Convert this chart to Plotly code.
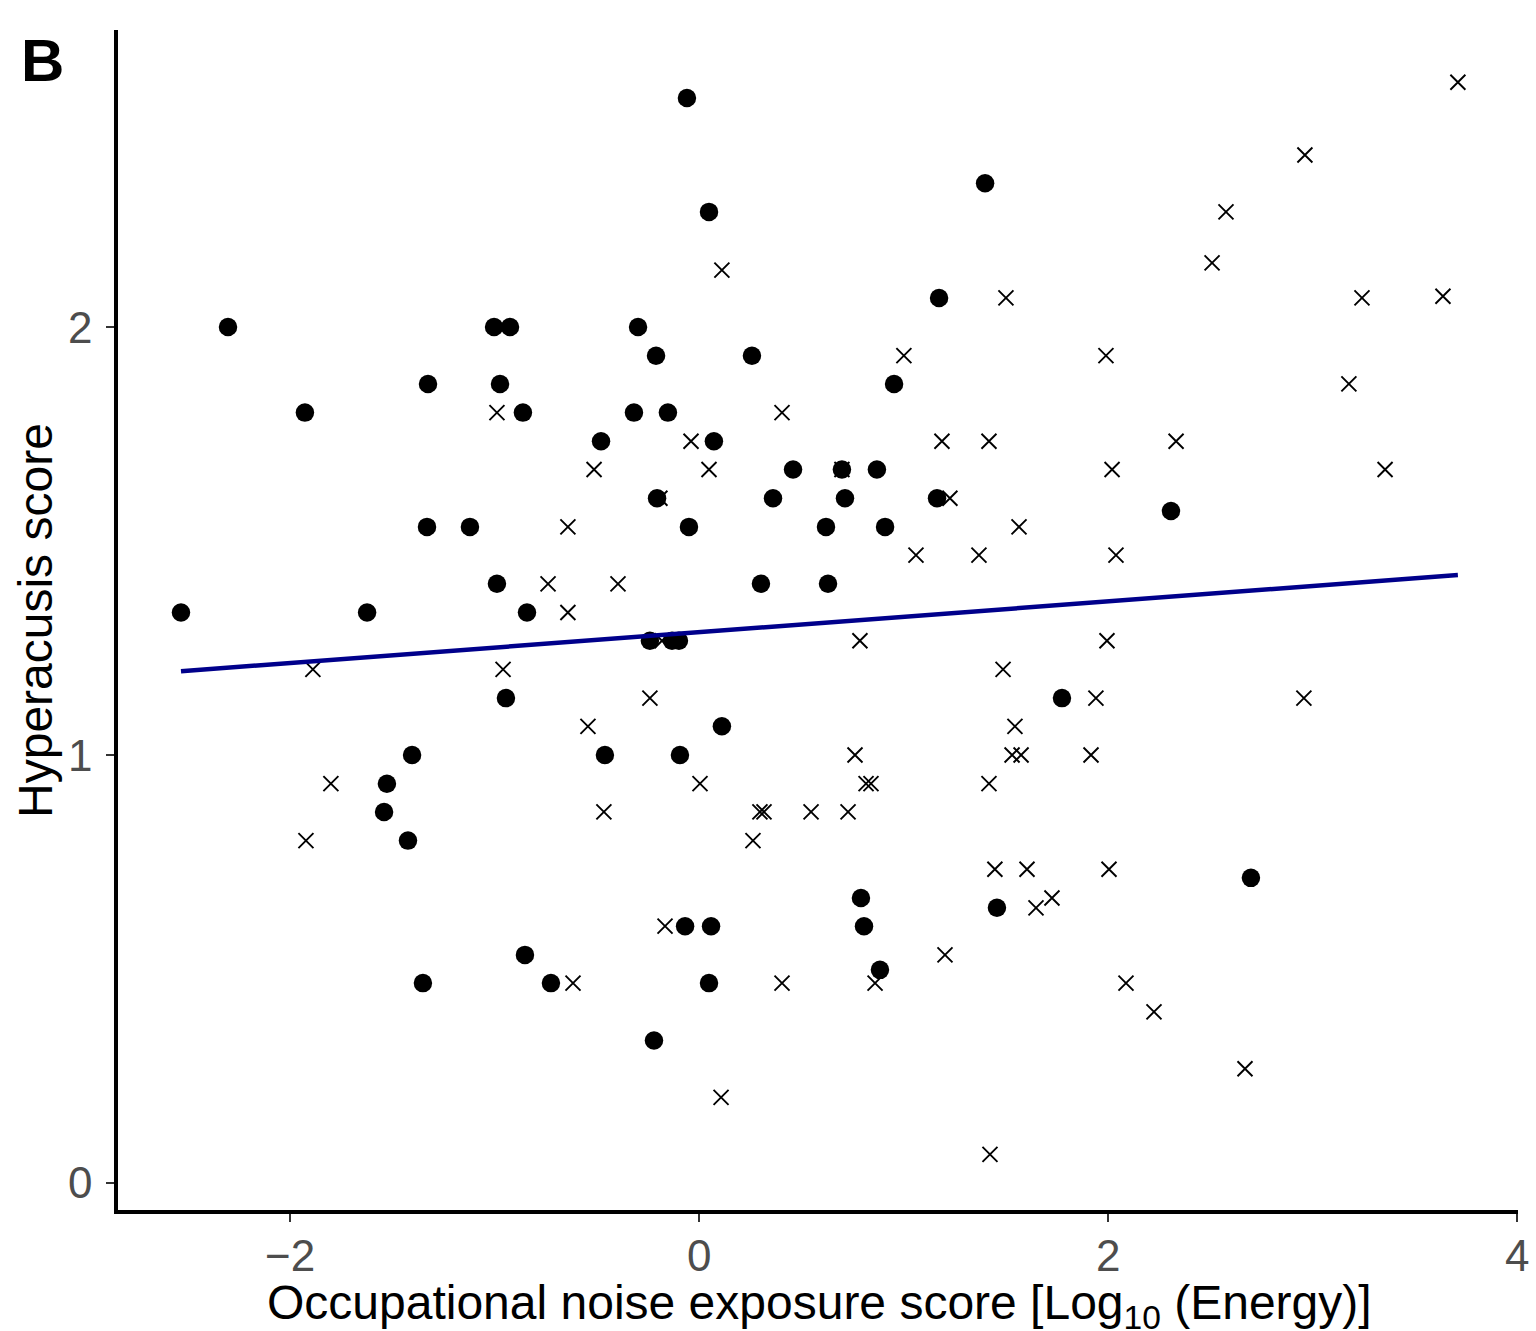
import plotly.graph_objects as go

# Filled circles (group 1)
dots_x = [-0.059, 0.049, 1.399, 1.174, -2.303, -1.002, -0.924, -0.298, -0.210, 0.259,
          -1.325, -0.973, 0.954, -1.927, -0.861, -0.318, -0.152, -0.479, 0.073, 0.460,
          0.699, 0.870, -0.205, 0.362, 0.714, 1.164, 2.308, -1.330, -1.120, -0.049,
          0.621, 0.910, -0.988, 0.303, 0.631, -2.533, -1.623, -0.841, -0.240, -0.132,
          -0.098, -0.944, 1.775, 0.112, -1.403, -0.460, -0.093, -1.526, -1.540, -1.423,
          0.792, 2.699, 1.457, -0.068, 0.059, 0.807, 0.885, -0.851, -1.350, -0.724,
          0.049, -0.220]
dots_y = [2.535, 2.269, 2.336, 2.068, 2.000, 2.000, 2.000, 2.000, 1.933, 1.933,
          1.867, 1.867, 1.867, 1.800, 1.800, 1.800, 1.800, 1.733, 1.733, 1.667,
          1.667, 1.667, 1.600, 1.600, 1.600, 1.600, 1.570, 1.533, 1.533, 1.533,
          1.533, 1.533, 1.400, 1.400, 1.400, 1.333, 1.333, 1.333, 1.267, 1.267,
          1.267, 1.133, 1.133, 1.067, 1.000, 1.000, 1.000, 0.933, 0.867, 0.800,
          0.666, 0.713, 0.643, 0.600, 0.600, 0.600, 0.498, 0.533, 0.467, 0.467,
          0.467, 0.333]

# Crosses (group 2)
cross_x = [3.711, 2.963, 2.577, 0.112, 2.509, 1.501, 3.242, 3.638, 1.002, 1.990,
           3.178, -0.988, 0.406, -0.039, 1.188, 1.418, 2.333, -0.513, 0.049, 0.699,
           2.020, 3.355, -0.191, 1.227, -0.641, 1.565, 1.061, 1.369, 2.039, -0.738,
           -0.396, -0.641, -1.888, -0.958, -0.181, 0.787, 1.995, 1.487, -0.240, 1.941,
           2.958, -0.543, 1.545, 0.763, 1.531, 1.575, 1.917, -1.800, 0.005, 0.817,
           0.841, 1.418, -0.465, 0.298, 0.318, 0.548, 0.729, -1.922, 0.264, 1.447,
           1.604, 2.005, 1.726, 1.648, -0.166, 1.203, -0.616, 0.406, 0.861, 2.088,
           2.225, 2.670, 0.108, 1.423]
cross_y = [2.572, 2.402, 2.269, 2.133, 2.150, 2.068, 2.068, 2.072, 1.933, 1.933,
           1.867, 1.800, 1.800, 1.733, 1.733, 1.733, 1.733, 1.667, 1.667, 1.667,
           1.667, 1.667, 1.600, 1.600, 1.533, 1.533, 1.467, 1.467, 1.467, 1.400,
           1.400, 1.333, 1.200, 1.200, 1.267, 1.267, 1.267, 1.200, 1.133, 1.133,
           1.133, 1.067, 1.067, 1.000, 1.000, 1.000, 1.000, 0.933, 0.933, 0.933,
           0.933, 0.933, 0.867, 0.867, 0.867, 0.867, 0.867, 0.800, 0.800, 0.733,
           0.733, 0.733, 0.666, 0.643, 0.600, 0.533, 0.467, 0.467, 0.467, 0.467,
           0.400, 0.267, 0.200, 0.067]

# Linear fit
fit_intercept = 1.287
fit_slope = 0.036

x_ticks = [-2, 0, 2, 4]
x_tick_labels = ["\u22122", "0", "2", "4"]
y_ticks = [0, 1, 2]
y_tick_labels = ["0", "1", "2"]

all_x = dots_x + cross_x
fit_x = [min(all_x), max(all_x)]
fit_y = [fit_intercept + fit_slope * v for v in fit_x]

FONT = "Liberation Sans, Arial, Helvetica, sans-serif"
TICK_FONT = dict(size=44, color="#4d4d4d", family=FONT)

fig = go.Figure()
fig.add_trace(go.Scatter(
    x=dots_x, y=dots_y, mode="markers",
    marker=dict(symbol="circle", size=18.5, color="black", line=dict(width=0)),
    showlegend=False, hoverinfo="skip"))
fig.add_trace(go.Scatter(
    x=cross_x, y=cross_y, mode="markers",
    marker=dict(symbol="x-thin", size=15, color="black",
                line=dict(width=1.9, color="black")),
    showlegend=False, hoverinfo="skip"))
fig.add_trace(go.Scatter(
    x=fit_x, y=fit_y, mode="lines",
    line=dict(color="#00008B", width=4.5),
    showlegend=False, hoverinfo="skip"))

annotations = []
# x tick labels (placed just below the axis line)
for v, t in zip(x_ticks, x_tick_labels):
    annotations.append(dict(text=t, x=v, xref="x", y=0, yref="paper",
                            xanchor="center", yanchor="middle", yshift=-45,
                            showarrow=False, font=TICK_FONT))
# y tick labels (placed left of the tick marks)
for v, t in zip(y_ticks, y_tick_labels):
    annotations.append(dict(text=t, x=0, xref="paper", y=v, yref="y",
                            xanchor="right", yanchor="middle", xshift=-24,
                            showarrow=False, font=TICK_FONT))

annotations += [
    dict(text="Occupational noise exposure score [Log<sub>10</sub> (Energy)]",
         xref="paper", yref="paper", x=0.501, y=-0.0812,
         xanchor="center", yanchor="middle", showarrow=False,
         font=dict(size=48, color="black", family=FONT)),
    dict(text="Hyperacusis score",
         xref="paper", yref="paper", x=-0.0593, y=0.5,
         xanchor="center", yanchor="middle", showarrow=False, textangle=-90,
         font=dict(size=48, color="black", family=FONT)),
    dict(text="<b>B</b>",
         xref="paper", yref="paper", x=-0.0536, y=0.974,
         xanchor="center", yanchor="middle", showarrow=False,
         font=dict(size=60, color="black", family=FONT)),
]

fig.update_layout(
    width=1536, height=1331,
    margin=dict(l=118, r=18, t=30, b=121),
    paper_bgcolor="white", plot_bgcolor="white",
    font=dict(family=FONT, color="black"),
    xaxis=dict(range=[-2.841, 4.005], tickvals=x_ticks, showticklabels=False,
               automargin=False,
               showgrid=False, zeroline=False,
               showline=True, linewidth=4, linecolor="black",
               ticks="outside", ticklen=8, tickwidth=1.8, tickcolor="#333333"),
    yaxis=dict(range=[-0.0631, 2.694], tickvals=y_ticks, showticklabels=False,
               automargin=False,
               showgrid=False, zeroline=False,
               showline=True, linewidth=4, linecolor="black",
               ticks="outside", ticklen=8, tickwidth=1.8, tickcolor="#333333"),
    annotations=annotations,
)

fig.write_html("out.html")
